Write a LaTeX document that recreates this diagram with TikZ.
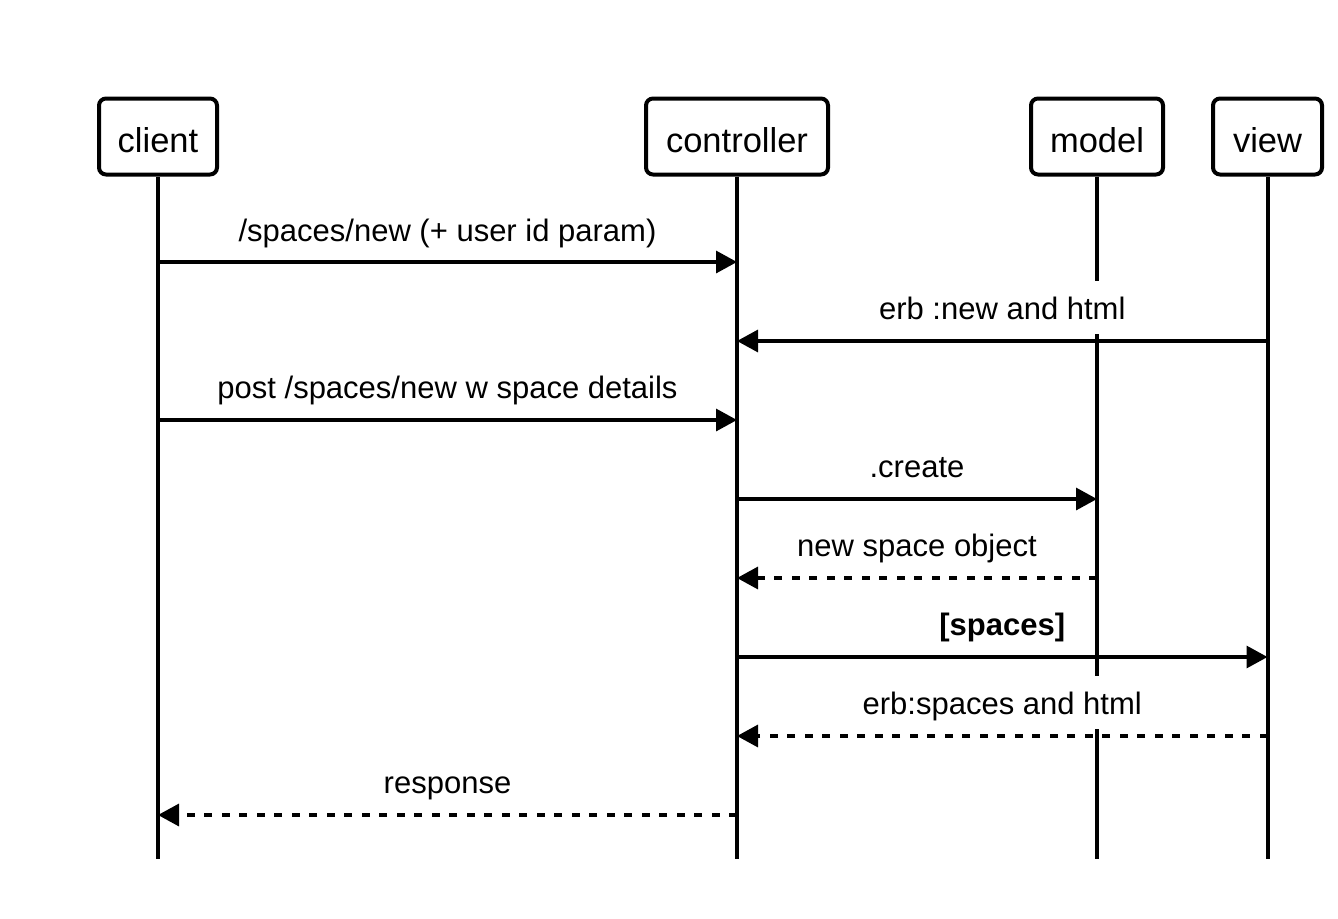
\documentclass[tikz,border=0pt]{standalone}
\usepackage{fontspec}
\setmainfont{Liberation Sans}
\usetikzlibrary{arrows.meta,calc}
\begin{document}
\begin{tikzpicture}[x=1pt,y=-1pt,
  actor/.style={draw, line width=4pt, rounded corners=7pt, minimum height=76pt, inner sep=0pt, text height=32.5pt, text depth=0pt, fill=white, font=\fontsize{34.5}{40}\selectfont},
  life/.style={line width=4pt},
  msg/.style={line width=3.3pt, -{Triangle[length=21pt,width=22pt]}},
  ret/.style={msg, dash pattern=on 8pt off 9.5pt},
  lbl/.style={fill=white, inner xsep=4pt, inner ysep=12pt, text height=26pt, text depth=3pt, anchor=base, font=\fontsize{31}{36}\selectfont}
]
\useasboundingbox (0,0) rectangle (1338,918);
% actors
\node[actor, minimum width=118pt] (client) at (158,136.5) {client};
\node[actor, minimum width=182pt] (controller) at (737,136.5) {controller};
\node[actor, minimum width=132pt] (model) at (1097,136.5) {model};
\node[actor, minimum width=109pt] (view) at (1267.5,136.5) {view};
% lifeline ends
\coordinate (bottom) at (0,859);
\draw[life] (client.south) -- (client |- bottom);
\draw[life] (controller.south) -- (controller |- bottom);
\draw[life] (model.south) -- (model |- bottom);
\draw[life] (view.south) -- (view |- bottom);
% message rows
\coordinate (m1) at (0,262);
\coordinate (m2) at (0,341);
\coordinate (m3) at (0,420);
\coordinate (m4) at (0,499);
\coordinate (m5) at (0,578);
\coordinate (m6) at (0,657);
\coordinate (m7) at (0,736);
\coordinate (m8) at (0,815);
% messages
\draw[msg] (client |- m1) -- (controller |- m1);
\draw[msg] (view |- m2) -- (controller |- m2);
\draw[msg] (client |- m3) -- (controller |- m3);
\draw[msg] (controller |- m4) -- (model |- m4);
\draw[ret] (model |- m5) -- (controller |- m5);
\draw[msg] (controller |- m6) -- (view |- m6);
\draw[ret] (view |- m7) -- (controller |- m7);
\draw[ret] (controller |- m8) -- (client |- m8);
% labels
\node[lbl] (l1) at ($(client |- m1)!0.5!(controller |- m1) + (0,-21)$) {/spaces/new (+ user id param)};
\node[lbl] (l2) at ($(controller |- m2)!0.5!(view |- m2) + (0,-22)$) {erb :new and html};
\node[lbl] (l3) at ($(client |- m3)!0.5!(controller |- m3) + (0,-22)$) {post /spaces/new w space details};
\node[lbl] (l4) at ($(controller |- m4)!0.5!(model |- m4) + (0,-22)$) {.create};
\node[lbl] (l5) at ($(controller |- m5)!0.5!(model |- m5) + (0,-22)$) {new space object};
\node[lbl] (l6) at ($(controller |- m6)!0.5!(view |- m6) + (0,-22)$) {\bfseries [spaces]};
\node[lbl] (l7) at ($(controller |- m7)!0.5!(view |- m7) + (0,-22)$) {erb:spaces and html};
\node[lbl] (l8) at ($(client |- m8)!0.5!(controller |- m8) + (0,-22)$) {response};
\end{tikzpicture}
\end{document}
